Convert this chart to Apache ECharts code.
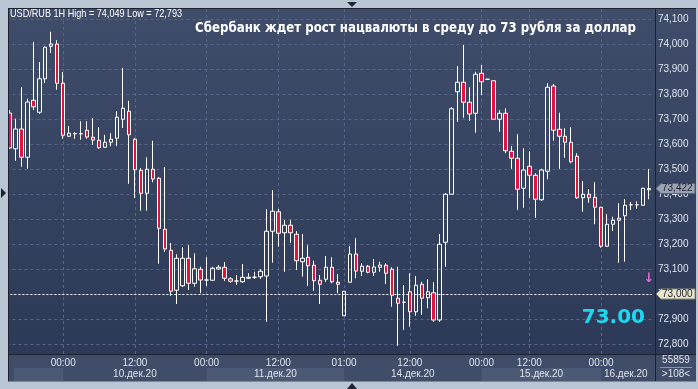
<!DOCTYPE html>
<html><head><meta charset="utf-8">
<script src="https://cdn.jsdelivr.net/npm/echarts@6/dist/echarts.min.js"></script>
<style>html,body{margin:0;padding:0;background:#bac5d4;} #c{width:698px;height:389px;}</style>
</head><body><div id="c"></div>
<script>
// ---- data ----
const daySegments = [['09.12',15,23],['10.12',0,23],['11.12',0,22],['14.12',1,23],['15.12',0,0],['15.12',5,23],['16.12',0,8]];
const dayKeys  = ['10.12','11.12','14.12','15.12','16.12'];
const dayNames = ['10.дек.20','11.дек.20','14.дек.20','15.дек.20','16.дек.20'];
const yTicks = [72.8,72.9,73.0,73.1,73.2,73.3,73.4,73.5,73.6,73.7,73.8,73.9,74.0,74.1];

const opens = [73.724,73.581,73.660,73.547,73.775,73.727,73.861,73.991,74.000,73.843,
73.631,73.641,73.641,73.655,73.627,73.615,73.587,73.607,73.623,73.699,
73.731,73.619,73.495,73.403,73.499,73.463,73.259,73.175,73.015,73.033,
73.143,73.043,73.099,73.056,73.055,73.100,73.107,73.061,73.052,73.049,
73.063,73.067,73.069,73.072,73.251,73.329,73.245,73.275,73.239,73.129,
73.147,73.115,73.055,73.059,73.107,73.047,72.913,73.047,73.160,73.091,
73.111,73.087,73.107,73.115,73.099,72.983,72.967,73.009,72.929,73.039,
72.985,73.005,72.896,73.207,73.399,73.809,73.847,73.767,73.723,73.883,
73.859,73.853,73.699,73.723,73.571,73.543,73.423,73.511,73.475,73.377,
73.491,73.832,73.659,73.631,73.607,73.551,73.385,73.399,73.387,73.347,
73.191,73.279,73.295,73.313,73.357,73.357,73.355,73.417];
const closes = [73.584,73.660,73.547,73.768,73.749,73.861,73.987,74.000,73.843,73.635,
73.643,73.642,73.641,73.628,73.616,73.585,73.607,73.619,73.707,73.743,
73.637,73.497,73.403,73.499,73.460,73.263,73.180,73.011,73.143,73.143,
73.043,73.101,73.056,73.056,73.103,73.107,73.063,73.051,73.052,73.067,
73.067,73.067,73.091,73.251,73.331,73.243,73.275,73.245,73.133,73.143,
73.113,73.053,73.039,73.107,73.049,73.039,73.011,73.160,73.092,73.111,
73.087,73.108,73.116,73.083,72.995,72.963,72.967,72.929,73.035,72.983,
73.009,72.896,73.199,73.399,73.741,73.847,73.767,73.720,73.879,73.849,
73.859,73.699,73.723,73.573,73.543,73.419,73.496,73.475,73.379,73.496,
73.827,73.655,73.631,73.607,73.529,73.385,73.399,73.385,73.347,73.191,
73.279,73.295,73.303,73.355,73.357,73.357,73.423,73.422];
const lows = [73.580,73.533,73.509,73.501,73.736,73.721,73.844,73.964,73.817,73.621,
73.628,73.620,73.617,73.621,73.597,73.581,73.584,73.591,73.593,73.664,
73.441,73.384,73.333,73.333,73.447,73.121,73.168,72.993,72.960,73.028,
73.016,73.029,73.003,73.032,73.053,73.096,73.052,73.045,73.036,73.045,
73.060,73.060,73.060,72.889,73.125,73.189,73.089,73.205,73.096,73.069,
73.032,73.013,72.960,73.048,73.043,73.003,72.913,73.047,73.063,73.072,
73.083,73.072,73.089,73.040,72.949,72.793,72.856,72.869,72.913,72.916,
72.943,72.889,72.888,73.109,73.399,73.689,73.705,73.693,73.645,73.796,
73.859,73.699,73.649,73.563,73.501,73.336,73.345,73.383,73.305,73.372,
73.459,73.613,73.501,73.545,73.523,73.381,73.329,73.365,73.279,73.185,
73.188,73.252,73.125,73.129,73.336,73.341,73.353,73.379];
const highs = [73.735,73.701,73.827,73.781,74.008,73.928,73.990,74.049,74.015,73.888,
73.672,73.648,73.691,73.691,73.704,73.668,73.637,73.643,73.731,73.904,
73.773,73.624,73.504,73.547,73.613,73.468,73.508,73.204,73.159,73.187,
73.195,73.163,73.109,73.147,73.109,73.116,73.128,73.067,73.076,73.120,
73.083,73.089,73.100,73.339,73.416,73.340,73.296,73.296,73.252,73.240,
73.195,73.133,73.076,73.152,73.147,73.080,73.011,73.192,73.224,73.123,
73.116,73.140,73.129,73.123,73.107,73.109,73.036,73.083,73.072,73.049,
73.059,73.047,73.240,73.403,73.747,73.912,73.996,73.827,73.889,73.916,
73.859,73.853,73.736,73.743,73.592,73.640,73.583,73.572,73.483,73.501,
73.843,73.840,73.725,73.663,73.667,73.563,73.452,73.420,73.448,73.349,
73.320,73.309,73.363,73.380,73.368,73.371,73.425,73.500];
const lastPrice = 73.422, levelPrice = 73.000;

// ---- build ----
const categories = [];
daySegments.forEach(([d,a,b]) => { for (let h=a; h<=b; h++) categories.push(d+' '+String(h).padStart(2,'0')+':00'); });
const ohlc = opens.map((o,i)=>[o, closes[i], lows[i], highs[i]]);
const markIdx = [];
categories.forEach((c,i)=>{
  const [d,t] = c.split(' ');
  const first = i>0 && categories[i-1].split(' ')[0] !== d;
  if (t==='00:00' || t==='12:00' || first) markIdx.push(i);
});
const markSet = new Set(markIdx);

const GL=6.4, GW=645.5, GT=9, GH=345;
const TXT='#dde3ee', FONT='Liberation Sans';
const chart = echarts.init(document.getElementById('c'), null, {renderer:'canvas'});
const option = {
  animation:false,
  backgroundColor:'#bac5d4',
  grid:{left:GL, top:GT, width:GW, height:GH, show:false, containLabel:false, outerBoundsMode:'none'},
  xAxis:{type:'category', data:categories, boundaryGap:true,
    axisLine:{show:false}, axisTick:{show:false}, splitLine:{show:false},
    axisLabel:{interval:(i)=>markSet.has(i), formatter:(v)=>v.split(' ')[1], color:TXT, fontSize:10, fontFamily:FONT, margin:4, hideOverlap:false}},
  yAxis:{type:'value', position:'right', min:72.76, max:74.14, scale:true,
    axisLine:{show:false}, axisTick:{show:false, customValues:yTicks},
    axisLabel:{customValues:yTicks, formatter:(v)=>v.toFixed(3).replace('.',','), color:TXT, fontSize:10, fontFamily:FONT, margin:6},
    splitLine:{show:true, lineStyle:{color:'#56658a', type:[3,3], width:1}}},
  series:[{
    type:'candlestick', name:'USD/RUB', data:ohlc, barWidth:4, z:2, clip:true,
    itemStyle:{color:'rgba(0,0,0,0)', color0:'#e4123c', borderColor:'#ffffff', borderColor0:'#ffffff', borderColorDoji:'#ffffff', borderWidth:1},
    emphasis:{disabled:true},
    markLine:{silent:true, symbol:'none', z:1, animation:false, label:{show:false}, emphasis:{disabled:true},
      data:[...markIdx.map(i=>({xAxis:i, lineStyle:{color:'#56658a', type:[3,3], width:1}})),
            {yAxis:levelPrice, lineStyle:{color:'#ffffff', type:[2,2], width:1}}]}
  }]
};
chart.setOption(option);

const px = (i)=>chart.convertToPixel({xAxisIndex:0}, i);
const py = (v)=>chart.convertToPixel({yAxisIndex:0}, v);
const ctx = document.createElement('canvas').getContext('2d');
function fitScale(text, font, target){ ctx.font=font; return target/ctx.measureText(text).width; }

const grad = ()=> new echarts.graphic.LinearGradient(0,0,0,1,[{offset:0,color:'#404d6a'},{offset:1,color:'#2d3a57'}]);
const G = [];
// backgrounds
G.push({type:'rect', z:-10, shape:{x:9,y:9,width:647,height:345}, style:{fill:grad()}});
G.push({type:'rect', z:-10, shape:{x:656,y:9,width:40,height:345}, style:{fill:grad()}});
G.push({type:'rect', z:-10, shape:{x:9,y:355,width:687,height:26}, style:{fill:'#404d69'}});
// day bands
const firstIdx = dayKeys.map(k=>categories.findIndex(c=>c.startsWith(k)));
const bandEdges = [px(0)+4.5, ...firstIdx.map(i=>px(i)), px(categories.length-1)+1.5];
for (let b=0; b<bandEdges.length-1; b++){
  const x0=bandEdges[b], x1=bandEdges[b+1];
  if (b%2===0) G.push({type:'rect', z:-9, shape:{x:x0,y:368,width:x1-x0,height:13}, style:{fill:'#4c5975'}});
  if (b>0) G.push({type:'text', z:5, x:(x0+x1)/2, y:374.5, style:{text:dayNames[b-1], fill:TXT, font:'10px '+FONT, align:'center', verticalAlign:'middle'}});
}
// frame
const FR='#bac5d4', DK='#1c2230';
G.push({type:'rect', z:20, shape:{x:0,y:0,width:8,height:389}, style:{fill:FR}});
G.push({type:'rect', z:20, shape:{x:0,y:0,width:698,height:8}, style:{fill:FR}});
G.push({type:'rect', z:20, shape:{x:0,y:382,width:698,height:7}, style:{fill:FR}});
G.push({type:'rect', z:20, shape:{x:696,y:0,width:2,height:389}, style:{fill:FR}});
G.push({type:'line', z:21, shape:{x1:8.5,y1:8,x2:8.5,y2:382}, style:{stroke:DK, lineWidth:1}});
G.push({type:'line', z:21, shape:{x1:8,y1:8.5,x2:696,y2:8.5}, style:{stroke:DK, lineWidth:1}});
G.push({type:'line', z:21, shape:{x1:655.5,y1:8,x2:655.5,y2:382}, style:{stroke:DK, lineWidth:1}});
G.push({type:'line', z:21, shape:{x1:8,y1:354.5,x2:696,y2:354.5}, style:{stroke:DK, lineWidth:1}});
G.push({type:'line', z:21, shape:{x1:8,y1:381.5,x2:696,y2:381.5}, style:{stroke:'#7d889a', lineWidth:1}});
// markers
G.push({type:'polygon', z:22, shape:{points:[[347,2],[357,2],[352,7]]}, style:{fill:DK}});
G.push({type:'polygon', z:22, shape:{points:[[347,389],[357,389],[352,383]]}, style:{fill:DK}});
G.push({type:'polygon', z:22, shape:{points:[[1,188],[1,198],[6,193]]}, style:{fill:DK}});
// texts
const t1='USD/RUB 1H High = 74,049 Low = 72,793', f1='10.5px '+FONT;
G.push({type:'text', z:15, x:10, y:14.5, scaleX:fitScale(t1,f1,172), style:{text:t1, font:f1, fill:'#ffffff', verticalAlign:'middle'}});
const t2='Сбербанк ждет рост нацвалюты в среду до 73 рубля за доллар', f2='bold 14px DejaVu Sans';
G.push({type:'text', z:15, x:195, y:28, scaleX:fitScale(t2,f2,441), style:{text:t2, font:f2, fill:'#ffffff', verticalAlign:'middle'}});
G.push({type:'text', z:15, x:645, y:318, style:{text:'73.00', font:'bold 20px DejaVu Sans', fill:'#1ed8f2', align:'right', verticalAlign:'middle'}});
G.push({type:'text', z:15, x:649, y:279, style:{text:'↓', font:'bold 13px DejaVu Sans', fill:'#e468e0', align:'center', verticalAlign:'middle'}});
// price tags
function tag(v, fill, stroke){
  const y=py(v);
  G.push({type:'polygon', z:16, shape:{points:[[656,y],[661,y-5],[695,y-5],[695,y+5],[661,y+5]]}, style:{fill:fill, stroke:stroke, lineWidth:1}});
  G.push({type:'text', z:17, x:662, y:y, style:{text:v.toFixed(3).replace('.',','), font:'10px '+FONT, fill:'#1c2230', verticalAlign:'middle'}});
}
tag(lastPrice,'#9aa1b0','#5d6577');
tag(levelPrice,'#e9e6cc','#8d8a74');
// bottom right box
G.push({type:'text', z:15, x:676, y:360.5, style:{text:'55859', font:'10px '+FONT, fill:TXT, align:'center', verticalAlign:'middle'}});
G.push({type:'line', z:15, shape:{x1:660,y1:367.5,x2:692,y2:367.5}, style:{stroke:'#8a94a8', lineWidth:1}});
G.push({type:'text', z:15, x:676, y:374, style:{text:'>108<', font:'10px '+FONT, fill:TXT, align:'center', verticalAlign:'middle'}});

chart.setOption({graphic:G});
</script></body></html>
